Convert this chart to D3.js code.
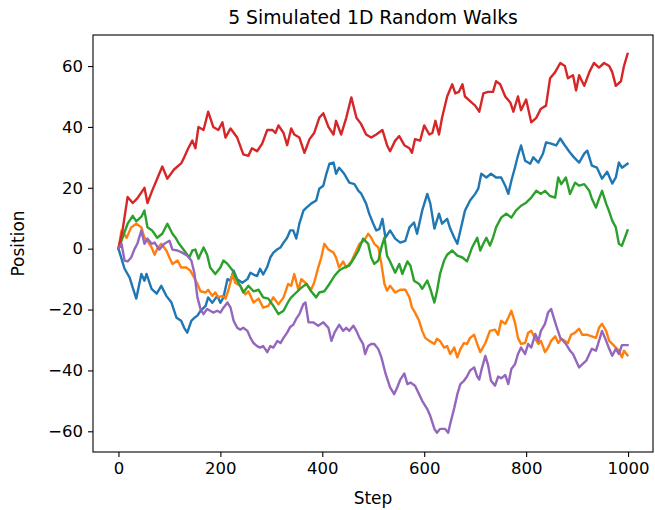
<!DOCTYPE html>
<html lang="en">
<head>
<meta charset="utf-8">
<title>5 Simulated 1D Random Walks</title>
<script src="https://d3js.org/d3.v7.min.js"></script>
<style>
  body { margin: 0; background: #fff; }
  #chart text { font-family: "DejaVu Sans", sans-serif; fill: #000; }
</style>
</head>
<body>
<div id="chart"></div>
<script>
// values as [step, position]
const walkBlue = [[0,0],[6,-3.3],[12,-6.6],[22,-9.5],[28,-12.8],[35,-16.4],[45,-8.3],[51,-10.5],[55,-8.3],[65,-13.2],[75,-14.8],[84,-12.2],[94,-15.5],[104,-17.7],[114,-22.7],[123,-23.7],[129,-26],[135,-27.6],[143,-23.7],[149,-22.7],[155,-22],[161,-20.4],[171,-18.8],[176,-16],[184,-17.8],[194,-15.5],[200,-17.8],[206,-16],[214,-10],[220,-10.5],[226,-7.2],[233,-10],[243,-11.2],[253,-10],[259,-7.9],[265,-8.5],[272,-9],[278,-6.6],[284,-8.5],[292,-6],[298,-2.9],[304,-1.3],[312,-0.2],[318,0.4],[324,2],[331,3.6],[337,6],[343,6],[349,3.3],[355,8.2],[363,12.5],[369,13.5],[378,14.8],[388,15.8],[394,19.7],[402,20.7],[408,24.6],[414,27.9],[422,28.3],[427,24.6],[433,26.6],[443,24.6],[453,21.7],[463,21.2],[471,19],[476,18.2],[486,14.8],[492,11.5],[500,8.2],[506,6],[512,6.4],[518,9.8],[524,3.6],[533,6],[543,3.3],[553,2],[563,2.6],[571,7],[580,8.6],[586,4.9],[596,12.5],[606,18],[612,14.8],[620,6.6],[629,11.5],[635,8.2],[645,9.8],[651,6.6],[659,3.6],[665,1.6],[671,6],[680,12.5],[690,15.8],[700,18],[706,19.7],[712,24.6],[722,23.4],[731,24.6],[741,23.4],[751,23.4],[759,20.7],[765,18],[771,22.3],[778,26.6],[784,30.6],[790,33.9],[798,28.9],[808,27.9],[814,30],[824,28.3],[833,31.2],[839,34.9],[849,34.5],[859,33.9],[867,36.2],[876,33.9],[886,31.6],[894,30],[904,28.3],[914,31.2],[920,32.2],[929,27.3],[939,26.6],[949,23],[959,25.3],[969,21.4],[976,23.4],[982,28.3],[988,26.6],[999,27.9]];

const walkOrange = [[0,0],[6,6],[16,3.6],[25,7],[35,8.2],[45,7],[51,3.6],[57,2.6],[65,0.4],[71,-2],[76,0],[84,1.6],[94,-0.6],[100,-2.9],[106,-5],[116,-3.9],[123,-6.2],[133,-6.2],[141,-7.2],[147,-9],[155,-11.6],[161,-14],[171,-14.4],[176,-13.5],[184,-15.5],[190,-14.4],[196,-16],[204,-15.5],[210,-16.4],[216,-13.5],[224,-8.3],[229,-11.2],[239,-12.2],[249,-15],[255,-14],[265,-17.7],[275,-16.4],[284,-19.4],[294,-18.8],[304,-16],[314,-18.3],[324,-16],[333,-11.6],[339,-12.2],[345,-8.3],[353,-13.5],[359,-10],[369,-11.6],[378,-13.5],[384,-11.2],[392,-6.2],[398,-2.9],[404,1.6],[412,-0.3],[422,-1.3],[427,-2.9],[433,-6.2],[441,-4.2],[447,-6.2],[457,-4.2],[467,-0.6],[473,1.6],[482,2.6],[490,4.9],[496,3.6],[502,1.6],[510,0.4],[516,-5],[522,-11.6],[527,-13.8],[533,-12.2],[543,-14.4],[553,-13.5],[563,-13.5],[571,-16],[576,-19.4],[582,-21],[590,-23.7],[596,-27],[602,-29.3],[610,-30.3],[620,-31.3],[625,-29.6],[631,-30.3],[639,-32.5],[645,-32],[651,-34.6],[659,-32.5],[665,-35.7],[671,-33],[678,-31],[684,-31.3],[690,-29.3],[698,-28.3],[704,-31.3],[710,-34],[720,-31],[729,-27],[739,-26.6],[745,-28.3],[751,-23.7],[759,-24.7],[765,-22.7],[771,-20.4],[778,-24.2],[784,-29.3],[790,-31.3],[798,-31],[804,-27.6],[810,-27],[818,-29.6],[824,-31.3],[829,-30.3],[837,-34],[843,-32.5],[849,-30.3],[857,-28.8],[863,-31],[869,-29.6],[876,-30.3],[882,-31],[888,-28.3],[896,-27.6],[904,-26.3],[910,-28.3],[920,-28.3],[929,-28.8],[937,-29.3],[943,-26],[949,-24.7],[957,-27],[963,-30.3],[969,-31.3],[976,-32.5],[982,-33.5],[988,-35.7],[992,-33.5],[999,-35]];

const walkGreen = [[0,0],[8,3.6],[18,8.2],[28,10.8],[35,9],[45,10.5],[51,12.5],[57,7],[66,6],[76,3.6],[86,4.9],[96,8.2],[106,4.9],[112,3.6],[119,1.6],[129,-0.6],[139,-2.9],[145,-0.6],[151,-0.3],[157,-3.3],[167,0.4],[174,-2],[180,-6.2],[190,-8.3],[200,-6.2],[206,-3.9],[214,-5],[224,-7.2],[233,-10.5],[239,-12.2],[245,-14.4],[255,-12.2],[265,-14],[275,-13.5],[284,-16],[294,-16.4],[304,-18.8],[314,-21.5],[324,-20.4],[333,-17.5],[339,-16],[349,-14.4],[359,-12.8],[369,-11.6],[378,-14],[388,-16],[394,-14.4],[404,-14],[414,-11.6],[424,-8.9],[433,-7.2],[443,-6.2],[453,-5.6],[463,-2.9],[471,-0.6],[480,3.3],[490,1.6],[496,-2.9],[502,-5],[510,-3.9],[516,0.4],[522,3.6],[527,-2.3],[533,-4.2],[543,-7.9],[551,-5],[557,-8.3],[567,-4.2],[573,-5.6],[580,-10.5],[590,-11.6],[596,-13.2],[606,-10.5],[612,-13.2],[620,-17.7],[625,-14],[631,-8.3],[639,-3.9],[645,-2],[655,-0.6],[665,-2.3],[675,-2.9],[684,-4.2],[694,0.4],[704,3.6],[710,-0.6],[716,1.6],[722,3.6],[729,1],[735,3.6],[741,7],[751,10.2],[761,11.5],[771,10.2],[780,12.5],[790,14.1],[800,15.1],[810,16.8],[820,19],[829,18],[837,19],[847,17.3],[857,16.8],[863,23.4],[869,21.2],[878,23.4],[886,18],[896,21.7],[904,20.7],[914,21.2],[924,19],[929,16.4],[937,13.5],[943,16.4],[949,19],[957,14.8],[963,12.2],[969,9.2],[976,7],[982,1.6],[988,1],[999,6]];

const walkRed = [[0,0],[8,6],[18,17],[28,15],[37,16.5],[51,20],[57,15],[66,19],[76,23],[86,27],[96,23],[109,26],[123,28],[129,30],[137,33],[145,35.5],[151,33],[157,40],[167,39],[176,45],[186,40],[196,39],[204,41.5],[210,36.5],[220,39.5],[233,36.5],[245,31],[255,30.5],[262,33],[272,32],[282,34.5],[292,39],[302,39],[308,38],[314,40.5],[324,38],[331,34],[339,39.5],[345,37.5],[355,36.5],[365,31.5],[375,36],[384,38],[394,43],[402,44.5],[412,40],[422,37.5],[427,42],[437,37.5],[447,43],[457,49.7],[467,43],[476,41],[486,37.5],[496,36.5],[506,37.5],[518,39],[527,34],[533,32],[543,35.5],[551,37],[561,34],[571,33],[576,31.5],[582,36],[592,35.5],[600,40.5],[610,37.5],[616,38],[622,42],[629,37.5],[635,43],[645,50],[655,54],[661,51],[668,51.5],[675,54],[680,50],[690,48.5],[700,47],[708,45],[716,51],[725,51.5],[735,51.5],[741,55],[749,54],[759,50],[769,48],[775,45],[784,50],[790,45.5],[800,49],[810,41.5],[820,43],[829,46],[839,47],[847,56],[857,58],[867,61],[876,60],[882,56],[892,57],[898,52],[904,57],[914,53.5],[924,58],[933,61],[943,59.5],[953,61],[963,60],[969,58],[976,53.5],[986,55],[992,60],[999,64]];

const walkPurple = [[0,0],[6,1.6],[12,-3.9],[18,-4.2],[25,-2.9],[31,-0.3],[37,1.6],[45,6],[51,1.6],[57,3.3],[65,1.6],[71,2],[80,-0.3],[90,1.6],[100,2.6],[106,-0.3],[116,-0.6],[125,-1.3],[135,-2.3],[143,-3.9],[149,-8],[155,-16],[161,-19.8],[167,-21.5],[174,-19.8],[180,-20.4],[186,-21],[194,-20.4],[200,-21],[206,-19.4],[214,-17.7],[220,-19.4],[226,-23.7],[233,-26],[239,-26.6],[245,-26],[253,-27],[259,-29.3],[265,-31],[272,-32],[278,-32.5],[284,-32],[292,-34],[298,-32],[304,-32.5],[312,-30.3],[318,-31],[324,-29.3],[331,-27.6],[337,-25.7],[343,-25],[349,-23],[355,-21.5],[363,-18.2],[367,-17.7],[373,-24.2],[382,-24.2],[392,-25.3],[402,-24.2],[412,-26],[418,-30.3],[424,-27.6],[433,-25],[441,-27],[447,-26],[453,-27],[461,-25.3],[467,-27],[473,-29.3],[480,-31.3],[484,-34.6],[490,-32],[496,-31.3],[502,-31.3],[510,-33],[516,-35.7],[524,-41],[533,-45.6],[541,-47.8],[547,-45.6],[553,-43],[561,-41],[567,-44.5],[573,-44],[582,-45],[590,-47.8],[596,-50],[606,-52.7],[612,-55],[620,-59.2],[625,-60.5],[631,-59.2],[641,-59.2],[647,-60.5],[651,-57.6],[659,-52.3],[665,-47.8],[671,-44.5],[678,-43.4],[684,-42],[690,-40],[698,-39],[704,-42],[708,-43],[712,-40],[720,-35.2],[725,-38],[731,-43.4],[739,-45],[745,-42],[751,-42.6],[759,-41.5],[765,-44.5],[771,-39.5],[778,-38],[784,-34.6],[790,-32.5],[798,-34.6],[804,-31.3],[810,-32.5],[818,-28],[824,-30.3],[829,-27],[837,-24.7],[843,-21],[849,-19.8],[853,-22],[859,-25.3],[867,-29.3],[873,-30.3],[878,-31.3],[886,-33.5],[892,-34.6],[898,-36.8],[904,-39],[910,-38],[918,-36.8],[924,-34.6],[929,-32.9],[937,-33.5],[943,-30.3],[949,-27],[957,-30.3],[963,-32.9],[969,-35.2],[976,-32.9],[982,-34.6],[988,-31.7],[999,-31.7]];

const walks = [walkBlue, walkOrange, walkGreen, walkRed, walkPurple];
const colors = ["#1f77b4", "#ff7f0e", "#2ca02c", "#d62728", "#9467bd"];
const xTicks = [0, 200, 400, 600, 800, 1000];
const yTicks = [-60, -40, -20, 0, 20, 40, 60];

const W = 655, H = 510;
const m = { top: 35, right: 2, bottom: 58, left: 93 };

const svg = d3.select("#chart").append("svg")
  .attr("width", W).attr("height", H)
  .style("background", "#fff");

const x = d3.scaleLinear().domain([-49.95, 1048.95]).range([m.left, W - m.right]);
const y = d3.scaleLinear().domain([-66.8, 70.2]).range([H - m.bottom, m.top]);

const line = d3.line().x(d => x(d[0])).y(d => y(d[1]));

svg.append("g").selectAll("path")
  .data(walks)
  .join("path")
  .attr("d", line)
  .attr("fill", "none")
  .attr("stroke", (d, i) => colors[i])
  .attr("stroke-width", 2.4)
  .attr("stroke-linejoin", "round")
  .attr("stroke-linecap", "square");

const xAxis = svg.append("g")
  .attr("transform", `translate(0,${H - m.bottom})`)
  .call(d3.axisBottom(x).tickValues(xTicks).tickSize(5).tickPadding(5).tickFormat(d3.format("d")));
const yAxis = svg.append("g")
  .attr("transform", `translate(${m.left},0)`)
  .call(d3.axisLeft(y).tickValues(yTicks).tickSize(5).tickPadding(5).tickFormat(d3.format("d")));

[xAxis, yAxis].forEach(g => {
  g.select(".domain").remove();
  g.selectAll("line").attr("stroke", "#000").attr("stroke-width", 1.1);
  g.selectAll("text").style("font-size", "16.5px");
});

// frame
svg.append("rect")
  .attr("x", m.left).attr("y", m.top)
  .attr("width", W - m.right - m.left).attr("height", H - m.bottom - m.top)
  .attr("fill", "none").attr("stroke", "#000").attr("stroke-width", 1.1);

const cx = (m.left + W - m.right) / 2;
svg.append("text")
  .attr("x", cx).attr("y", 24)
  .attr("text-anchor", "middle")
  .style("font-size", "18.8px")
  .text("5 Simulated 1D Random Walks");

svg.append("text")
  .attr("x", cx).attr("y", 504)
  .attr("text-anchor", "middle")
  .style("font-size", "17px")
  .text("Step");

svg.append("text")
  .attr("transform", `translate(24,${(m.top + H - m.bottom) / 2}) rotate(-90)`)
  .attr("text-anchor", "middle")
  .style("font-size", "17px")
  .text("Position");
</script>
</body>
</html>
